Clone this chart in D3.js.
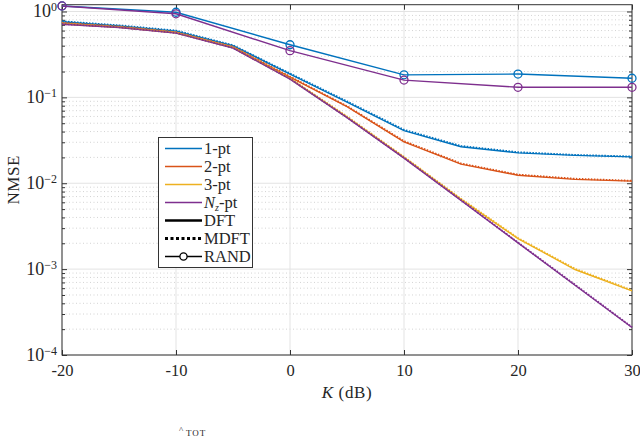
<!DOCTYPE html>
<html>
<head>
<meta charset="utf-8">
<script src="https://cdn.jsdelivr.net/npm/d3@7"></script>
<style>
  body { margin: 0; background: #fff; }
  text { font-family: "Liberation Serif", "DejaVu Serif", serif; fill: #262626; }
</style>
</head>
<body>
<svg id="chart" width="640" height="436"></svg>
<script>
// K (dB) grid
const K = [-20, -15, -10, -5, 0, 5, 10, 15, 20, 25, 30];
const Krand = [-20, -10, 0, 10, 20, 30];

// DFT (solid)
const dft1 = [0.76, 0.68, 0.59, 0.40, 0.187, 0.088, 0.041, 0.0266, 0.0226, 0.0211, 0.0203];
const dft2 = [0.73, 0.66, 0.57, 0.385, 0.172, 0.078, 0.0304, 0.0167, 0.0124, 0.0111, 0.0106];
const dft3 = [0.72, 0.655, 0.565, 0.38, 0.165, 0.059, 0.0200, 0.0065, 0.00227, 0.00099, 0.000557];
const dftN = [0.71, 0.65, 0.56, 0.375, 0.163, 0.058, 0.0196, 0.0063, 0.00202, 0.00065, 0.000209];

// MDFT (dotted)
const mdft1 = [0.77, 0.69, 0.60, 0.405, 0.19, 0.09, 0.042, 0.0272, 0.023, 0.0214, 0.0205];
const mdft2 = [0.74, 0.67, 0.575, 0.39, 0.175, 0.079, 0.031, 0.0170, 0.0126, 0.0113, 0.0107];
const mdft3 = [0.725, 0.66, 0.57, 0.383, 0.167, 0.06, 0.0203, 0.0066, 0.0023, 0.00101, 0.000567];
const mdftN = [0.715, 0.655, 0.563, 0.378, 0.165, 0.0585, 0.0198, 0.0064, 0.00204, 0.00066, 0.000211];

// RAND (circles)
const rand1 = [1.16, 0.98, 0.41, 0.183, 0.187, 0.167];
const randN = [1.16, 0.94, 0.35, 0.159, 0.131, 0.131];

const xTicks = [-20, -10, 0, 10, 20, 30];
const yExps = [0, -1, -2, -3, -4];

const colors = {one: "#0072BD", two: "#D95319", three: "#EDB120", nz: "#7E2F8E"};

const svg = d3.select("#chart");
svg.append("rect").attr("width", 640).attr("height", 436).attr("fill", "#fff");

const pLeft = 62, pRight = 632, pTop = 4.7, pBottom = 355;

const x = d3.scaleLinear().domain([-20, 30]).range([pLeft, pRight]);
const y = d3.scaleLog().domain([1e-4, 1.2]).range([pBottom, pTop]);

const g = svg.append("g");

// grid - minor dotted
const minorVals = [];
for (let e = -4; e <= 0; e++) {
    for (let m = 2; m <= 9; m++) {
        const v = m * Math.pow(10, e);
        if (v <= 1.2) minorVals.push(v);
    }
}
g.selectAll(".minor").data(minorVals).enter().append("line")
    .attr("x1", pLeft).attr("x2", pRight)
    .attr("y1", d => y(d)).attr("y2", d => y(d))
    .attr("stroke", "#c8c8c8").attr("stroke-width", 0.8)
    .attr("stroke-dasharray", "1,2.5");

// grid - major
g.selectAll(".majx").data(xTicks).enter().append("line")
    .attr("x1", d => x(d)).attr("x2", d => x(d))
    .attr("y1", pTop).attr("y2", pBottom)
    .attr("stroke", "#e3e3e3").attr("stroke-width", 1);
g.selectAll(".majy").data(yExps).enter().append("line")
    .attr("x1", pLeft).attr("x2", pRight)
    .attr("y1", d => y(Math.pow(10, d))).attr("y2", d => y(Math.pow(10, d)))
    .attr("stroke", "#e3e3e3").attr("stroke-width", 1);

// axes (box with inward ticks)
const axisColor = "#333";
g.append("rect").attr("x", pLeft).attr("y", pTop)
    .attr("width", pRight - pLeft).attr("height", pBottom - pTop)
    .attr("fill", "none").attr("stroke", axisColor).attr("stroke-width", 1);

const axB = g.append("g").attr("transform", `translate(0,${pBottom})`)
    .call(d3.axisBottom(x).tickValues(xTicks).tickSizeInner(-5).tickSizeOuter(0).tickFormat(d => d));
g.append("g").attr("transform", `translate(0,${pTop})`)
    .call(d3.axisTop(x).tickValues(xTicks).tickSizeInner(-5).tickSizeOuter(0).tickFormat(""));
const yMajor = yExps.map(e => Math.pow(10, e));
g.append("g").attr("transform", `translate(${pLeft},0)`)
    .call(d3.axisLeft(y).tickValues(yMajor).tickSizeInner(-5).tickSizeOuter(0).tickFormat(""));
g.append("g").attr("transform", `translate(${pRight},0)`)
    .call(d3.axisRight(y).tickValues(yMajor).tickSizeInner(-5).tickSizeOuter(0).tickFormat(""));
g.append("g").attr("transform", `translate(${pLeft},0)`)
    .call(d3.axisLeft(y).tickValues(minorVals).tickSizeInner(-3).tickSizeOuter(0).tickFormat(""));
g.append("g").attr("transform", `translate(${pRight},0)`)
    .call(d3.axisRight(y).tickValues(minorVals).tickSizeInner(-3).tickSizeOuter(0).tickFormat(""));

g.selectAll(".domain").remove();
g.selectAll(".tick line").attr("stroke", axisColor);
axB.selectAll("text")
    .attr("dy", null).attr("y", 21)
    .style("font-family", '"Liberation Serif", serif')
    .style("font-size", "16.5px").attr("fill", "#262626");

// y tick labels 10^e
yExps.forEach(e => {
    const t = g.append("text")
        .attr("x", pLeft - 5).attr("y", y(Math.pow(10, e)) + 6)
        .attr("text-anchor", "end").style("font-size", "18px");
    t.append("tspan").text("10");
    t.append("tspan").attr("dy", -6.5).style("font-size", "12px")
        .text(e === 0 ? "0" : "\u2212" + (-e));
});

// axis labels
g.append("text").attr("x", (pLeft + pRight) / 2).attr("y", 398)
    .attr("text-anchor", "middle").style("font-size", "17px").style("letter-spacing", "0.6px")
    .html('<tspan font-style="italic">K</tspan> (dB)');
g.append("text")
    .attr("transform", `translate(19,${(pTop + pBottom) / 2}) rotate(-90)`)
    .attr("text-anchor", "middle").style("font-size", "17px").style("letter-spacing", "0.5px")
    .text("NMSE");

// curves
const line = d3.line().x(d => x(d[0])).y(d => y(d[1]));
const plot = g.append("g");

function drawSeries(xs, ys, color, dashed) {
    plot.append("path")
        .datum(xs.map((k, i) => [k, ys[i]]))
        .attr("d", line)
        .attr("fill", "none")
        .attr("stroke", color)
        .attr("stroke-width", dashed ? 1.8 : 1.4)
        .attr("stroke-dasharray", dashed ? "1.5,1.5" : null);
}

drawSeries(K, dft1, colors.one, false);
drawSeries(K, dft2, colors.two, false);
drawSeries(K, dft3, colors.three, false);
drawSeries(K, dftN, colors.nz, false);
drawSeries(K, mdft1, colors.one, true);
drawSeries(K, mdft2, colors.two, true);
drawSeries(K, mdft3, colors.three, true);
drawSeries(K, mdftN, colors.nz, true);

function drawRand(ys, color) {
    drawSeries(Krand, ys, color, false);
    plot.selectAll(null).data(Krand.map((k, i) => [k, ys[i]])).enter()
        .append("circle")
        .attr("cx", d => x(d[0])).attr("cy", d => y(d[1]))
        .attr("r", 4).attr("fill", "none")
        .attr("stroke", color).attr("stroke-width", 1.3);
}
drawRand(rand1, colors.one);
drawRand(randN, colors.nz);

// legend
const legendItems = [
    {label: "1-pt", color: colors.one, type: "solid"},
    {label: "2-pt", color: colors.two, type: "solid"},
    {label: "3-pt", color: colors.three, type: "solid"},
    {label: "Nz", color: colors.nz, type: "solid"},
    {label: "DFT", color: "#000", type: "thick"},
    {label: "MDFT", color: "#000", type: "dot"},
    {label: "RAND", color: "#000", type: "circle"}
];
const lg = svg.append("g");
lg.append("rect").attr("x", 158.5).attr("y", 137.5).attr("width", 94).attr("height", 130)
    .attr("fill", "#fff").attr("stroke", "#333").attr("stroke-width", 1);
legendItems.forEach((d, i) => {
    const yy = 148.5 + i * 18;
    const ln = lg.append("line").attr("x1", 165).attr("x2", 202)
        .attr("y1", yy).attr("y2", yy).attr("stroke", d.color);
    if (d.type === "solid") ln.attr("stroke-width", 1.4);
    if (d.type === "thick") ln.attr("stroke-width", 2.6);
    if (d.type === "dot") ln.attr("stroke-width", 3).attr("stroke-dasharray", "3,2.5");
    if (d.type === "circle") {
        ln.attr("stroke-width", 1.4);
        lg.append("circle").attr("cx", 183.5).attr("cy", yy).attr("r", 3.6)
            .attr("fill", "#fff").attr("stroke", "#000").attr("stroke-width", 1.3);
    }
    const t = lg.append("text").attr("x", 204).attr("y", yy + 5.5).style("font-size", "16.5px");
    if (d.label === "Nz") {
        t.append("tspan").attr("font-style", "italic").text("N");
        t.append("tspan").attr("font-style", "italic").attr("dy", 2.5).style("font-size", "10px").text("z");
        t.append("tspan").attr("dy", -2.5).text("-pt");
    } else {
        t.text(d.label);
    }
});

// partial caption at the bottom edge
svg.append("text").attr("x", 179).attr("y", 433).style("font-size", "9px").text("^");
svg.append("text").attr("x", 186).attr("y", 435.5).style("font-size", "9px").style("letter-spacing", "1px").text("TOT");
</script>
</body>
</html>
